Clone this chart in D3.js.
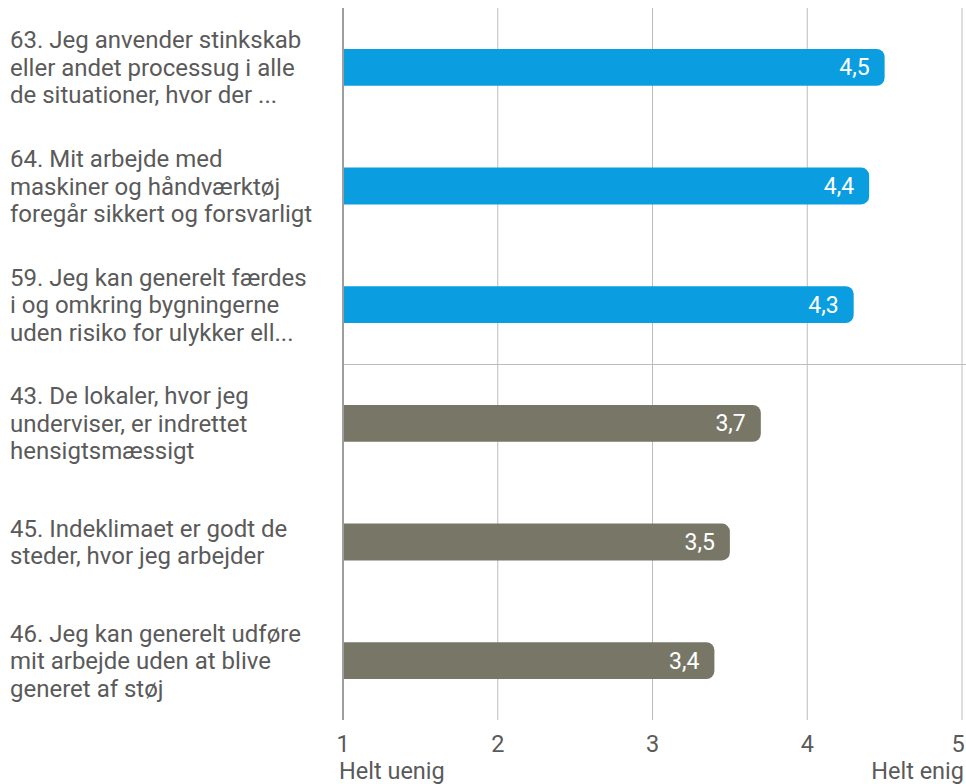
<!DOCTYPE html>
<html>
<head>
<meta charset="utf-8">
<script src="https://cdn.jsdelivr.net/npm/d3@7"></script>
<style>
  body { margin: 0; background: #fff; }
  text { font-family: Roboto, "Noto Sans", sans-serif; }
</style>
</head>
<body>
<div id="chart"></div>
<script>
// data
var labels = [
  ["63. Jeg anvender stinkskab", "eller andet processug i alle", "de situationer, hvor der ..."],
  ["64. Mit arbejde med", "maskiner og håndværktøj", "foregår sikkert og forsvarligt"],
  ["59. Jeg kan generelt færdes", "i og omkring bygningerne", "uden risiko for ulykker ell..."],
  ["43. De lokaler, hvor jeg", "underviser, er indrettet", "hensigtsmæssigt"],
  ["45. Indeklimaet er godt de", "steder, hvor jeg arbejder"],
  ["46. Jeg kan generelt udføre", "mit arbejde uden at blive", "generet af støj"]
];
var values = [4.5, 4.4, 4.3, 3.7, 3.5, 3.4];
var groups = ["top", "top", "top", "rest", "rest", "rest"];
var ticks = [1, 2, 3, 4, 5];

var width = 966,
    height = 784;

var colors = { top: "#0a9ddf", rest: "#787767" };

var svg = d3.select("#chart").append("svg")
  .attr("width", width)
  .attr("height", height);

var x = d3.scaleLinear().domain([1, 5]).range([343, 962]);
var y = d3.scaleBand().domain(d3.range(values.length)).range([8, 720])
  .paddingInner(0.69).paddingOuter(0.345);
var step = y.step();

// grid
svg.selectAll(".grid").data(ticks.slice(1))
  .enter().append("line")
    .attr("x1", function(d) { return x(d); })
    .attr("x2", function(d) { return x(d); })
    .attr("y1", 8).attr("y2", 720)
    .style("stroke", "#bdbdbd")
    .style("stroke-width", 1);

// separator between groups
var sepY = Math.round(8 + step * 3) + 0.5;
svg.append("line")
  .attr("x1", x(1)).attr("x2", width)
  .attr("y1", sepY).attr("y2", sepY)
  .style("stroke", "#bdbdbd");

// bars with rounded right end
function barPath(x0, x1, y0, h, r) {
  return "M" + x0 + "," + y0 +
    "H" + (x1 - r) +
    "A" + r + "," + r + " 0 0 1 " + x1 + "," + (y0 + r) +
    "V" + (y0 + h - r) +
    "A" + r + "," + r + " 0 0 1 " + (x1 - r) + "," + (y0 + h) +
    "H" + x0 + "Z";
}

svg.selectAll(".bar").data(values)
  .enter().append("path")
    .attr("d", function(d, i) { return barPath(x(1), x(d), y(i), y.bandwidth(), 8); })
    .style("fill", function(d, i) { return colors[groups[i]]; });

svg.selectAll(".val").data(values)
  .enter().append("text")
    .attr("x", function(d) { return x(d) - 15; })
    .attr("y", function(d, i) { return y(i) + y.bandwidth() / 2 + 8; })
    .attr("text-anchor", "end")
    .style("font-size", "23px")
    .style("fill", "#fff")
    .text(function(d) { return String(d).replace(".", ","); });

// axis line
svg.append("line")
  .attr("x1", x(1)).attr("x2", x(1))
  .attr("y1", 8).attr("y2", 720)
  .style("stroke", "#9e9e9e")
  .style("stroke-width", 2);

// category labels
labels.forEach(function(lines, i) {
  var cy = y(i) + y.bandwidth() / 2;
  var lh = 27.5;
  var t = svg.append("text")
    .style("font-size", "24px")
    .style("fill", "#5a5a5a");
  lines.forEach(function(line, j) {
    t.append("tspan")
      .attr("x", 10)
      .attr("y", cy + (j - (lines.length - 1) / 2) * lh + 8.5)
      .text(line);
  });
});

// x tick labels (keep the last one inside the page)
svg.selectAll(".tick").data(ticks)
  .enter().append("text")
    .attr("x", function(d) { return Math.min(x(d), width - 8); })
    .attr("y", 752)
    .attr("text-anchor", "middle")
    .style("font-size", "23.5px")
    .style("fill", "#5a5a5a")
    .text(function(d) { return d; });

svg.append("text")
  .attr("x", 339).attr("y", 779)
  .style("font-size", "23.5px").style("fill", "#5a5a5a")
  .text("Helt uenig");
svg.append("text")
  .attr("x", 964).attr("y", 779)
  .attr("text-anchor", "end")
  .style("font-size", "23.5px").style("fill", "#5a5a5a")
  .text("Helt enig");
</script>
</body>
</html>
